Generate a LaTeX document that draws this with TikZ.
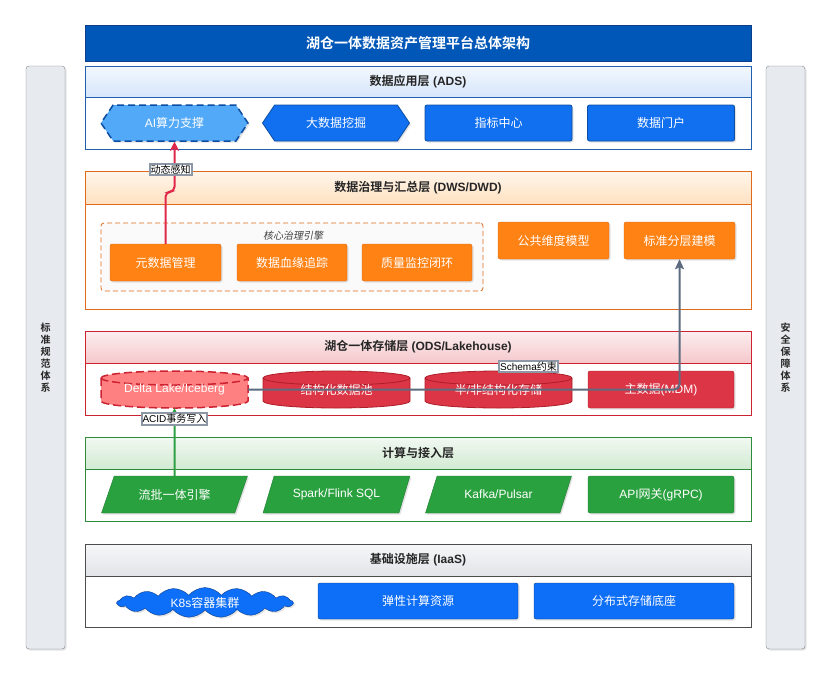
\documentclass[tikz,border=0pt]{standalone}
\usepackage{fontspec}
\setmainfont{Liberation Sans}
\newfontfamily\cjk{Noto Sans CJK SC}[BoldFont={Noto Sans CJK SC Bold},AutoFakeSlant=0.2]
\XeTeXinterchartokenstate=1
\newXeTeXintercharclass\cjkclass
\count255="3000
\loop\XeTeXcharclass\count255=\cjkclass\advance\count255 by 1 \ifnum\count255<"A000 \repeat
\count255="FF00
\loop\XeTeXcharclass\count255=\cjkclass\advance\count255 by 1 \ifnum\count255<"FFF0 \repeat
\XeTeXinterchartoks 0 \cjkclass={\begingroup\cjk}
\XeTeXinterchartoks 4095 \cjkclass={\begingroup\cjk}
\XeTeXinterchartoks \cjkclass 0={\endgroup}
\XeTeXinterchartoks \cjkclass 4095={\endgroup}
\usepackage{tikz}
\usetikzlibrary{arrows.meta,positioning,shapes.geometric,shapes.symbols,shadows}
\definecolor{titleblue}{HTML}{0057B8}
\definecolor{titleedge}{HTML}{0B3F8C}
\definecolor{appedge}{HTML}{1F5FAD}
\definecolor{apphead}{HTML}{D6E6FB}
\definecolor{appfill}{HTML}{1170F0}
\definecolor{aifill}{HTML}{52A9F7}
\definecolor{nodeedge}{HTML}{0C4DA2}
\definecolor{govedge}{HTML}{E06A1B}
\definecolor{govhead}{HTML}{FFE1C0}
\definecolor{govfill}{HTML}{FF8214}
\definecolor{govnode}{HTML}{D9691A}
\definecolor{lakeedge}{HTML}{CC2231}
\definecolor{lakehead}{HTML}{F5C8CB}
\definecolor{lakefill}{HTML}{DC3545}
\definecolor{deltafill}{HTML}{FF8080}
\definecolor{calcedge}{HTML}{2E8B3E}
\definecolor{calchead}{HTML}{D2EAD2}
\definecolor{calcfill}{HTML}{2AA13F}
\definecolor{calcnode}{HTML}{1E7A30}
\definecolor{infraedge}{HTML}{4D4D4D}
\definecolor{infrahead}{HTML}{E1E4E8}
\definecolor{infrafill}{HTML}{0D6EF7}
\definecolor{sidefill}{HTML}{E7EAEE}
\definecolor{sideedge}{HTML}{7F858C}
\definecolor{slate}{HTML}{5C6B7F}
\definecolor{sensered}{HTML}{E0294A}
\definecolor{acidgreen}{HTML}{2EA043}
\newcommand{\lakedrum}[5]{%
  \draw[#1] (#2,#4+7) -- (#2,#5-7)
    arc[start angle=180,end angle=0,x radius={(#3-#2)/2},y radius=7] -- (#3,#4+7)
    arc[start angle=0,end angle=-180,x radius={(#3-#2)/2},y radius=7] -- cycle;
  \draw[#1,fill=none] (#2,#4+7) arc[start angle=180,end angle=0,x radius={(#3-#2)/2},y radius=7];
}

\begin{document}
\begin{tikzpicture}[x=1pt,y=-1pt,
    every node/.style={font=\fontsize{12}{14}\selectfont,inner sep=2pt},
    shadowed/.style={drop shadow={shadow xshift=1.5pt,shadow yshift=-1.5pt,opacity=0.22}},
    layerframe/.style={draw=#1,fill=white,line width=0.8pt,minimum width=666pt},
    layerhead/.style={draw=#1,line width=0.8pt,minimum width=666pt,
                      font=\bfseries\fontsize{12}{14}\selectfont,text=black!85},
    appblock/.style={shadowed,draw=nodeedge,fill=appfill,text=white,rounded corners=2pt,
                     minimum width=147pt,minimum height=36pt,line width=0.8pt},
    apphex/.style={shadowed,draw=nodeedge,fill=appfill,text=white,line width=0.8pt,
                   signal,signal to=west and east,signal pointer angle=112,
                   minimum width=147pt,minimum height=36pt},
    govblock/.style={shadowed,draw=govnode,fill=govfill,text=white,rounded corners=2pt,
                     minimum width=111pt,minimum height=37pt},
    lakeblock/.style={shadowed,draw=lakeedge!85!black,fill=lakefill,text=white,rounded corners=2pt,
                      minimum width=146pt,minimum height=37pt},
    drum/.style={draw=lakeedge!85!black,fill=lakefill,line width=0.8pt},
    calcslant/.style={shadowed,draw=calcnode,fill=calcfill,text=white,
                      trapezium,trapezium left angle=62,trapezium right angle=118,
                      trapezium stretches=true,minimum width=147pt,minimum height=37pt},
    calcblock/.style={shadowed,draw=calcnode,fill=calcfill,text=white,rounded corners=2pt,
                      minimum width=146pt,minimum height=37pt},
    infrablock/.style={shadowed,draw=titleedge,fill=infrafill,text=white,rounded corners=2pt,
                       minimum width=200pt,minimum height=36pt},
    sidebar/.style={shadowed,draw=sideedge,fill=sidefill,rounded corners=3pt,minimum width=39pt,
                    minimum height=583pt,align=center,font=\bfseries\fontsize{10}{12}\selectfont,
                    text=black!85},
    flowtag/.style={draw=slate!70,fill=white,sharp corners,inner sep=1pt,
                    font=\fontsize{10}{11}\selectfont,text=black},
    senseline/.style={draw=sensered,line width=2pt,rounded corners=5pt,
                      -{Stealth[length=9pt,width=9pt,inset=2pt]}},
    acidline/.style={draw=acidgreen,line width=2pt,-{Stealth[length=6pt,width=6pt]}},
    schemaline/.style={draw=slate,line width=2pt,rounded corners=5pt,
                       -{Stealth[length=10pt,width=9pt,inset=2pt]}},
  ]
  \fill[white] (0,0) rectangle (833,678);
  \useasboundingbox (0,0) rectangle (833,678);

  \node[draw=titleedge,fill=titleblue,text=white,font=\bfseries\fontsize{14}{16}\selectfont,
        minimum width=666pt,minimum height=36pt] (title) at (418,43) {湖仓一体数据资产管理平台总体架构};
  \node[sidebar] (stdbar) at (45.5,357.5) {标\\准\\规\\范\\体\\系};
  \node[sidebar] (secbar) at (785.5,357.5) {安\\全\\保\\障\\体\\系};

  \node[layerframe=appedge,minimum height=83pt] (adsframe) at (418,107.5) {};
  \node[layerhead=appedge,top color=apphead!30!white,bottom color=apphead,minimum height=31pt]
       (adshead) at (418,81.5) {数据应用层 (ADS)};
  \node[apphex,fill=aifill,dash pattern=on 7pt off 4pt,line width=1.5pt] (ai) at (174.5,123) {AI算力支撑};
  \node[apphex] (mining) at (336,123) {大数据挖掘};
  \node[appblock] (metric) at (498.5,123) {指标中心};
  \node[appblock] (portal) at (661,123) {数据门户};

  \node[layerframe=govedge,minimum height=138pt] (dwsframe) at (418,240) {};
  \node[layerhead=govedge,top color=govhead!30!white,bottom color=govhead,minimum height=33pt]
       (dwshead) at (418,187.5) {数据治理与汇总层 (DWS/DWD)};
  \node[draw=govedge,line width=0.8pt,dash pattern=on 5pt off 3pt,fill=black!2,rounded corners=3pt,
        minimum width=382pt,minimum height=68pt] (core) at (292,257) {};
  \node[font=\itshape\fontsize{10}{12}\selectfont,text=black!75] (corelabel) at (293,236) {核心治理引擎};
  \node[govblock] (meta) at (165.5,262.5) {元数据管理};
  \node[govblock,minimum width=110pt] (lineage) at (292,262.5) {数据血缘追踪};
  \node[govblock,minimum width=110pt] (quality) at (417,262.5) {质量监控闭环};
  \node[govblock] (dimmodel) at (553.5,240.5) {公共维度模型};
  \node[govblock] (layermodel) at (679.5,240.5) {标准分层建模};

  \node[layerframe=lakeedge,minimum height=84pt] (odsframe) at (418,373) {};
  \node[layerhead=lakeedge,top color=lakehead!30!white,bottom color=lakehead,minimum height=32pt]
       (odshead) at (418,347) {湖仓一体存储层 (ODS/Lakehouse)};
  \lakedrum{drum,fill=deltafill,draw=lakeedge,dash pattern=on 8pt off 4pt,line width=1.5pt}{101}{248}{371}{408}
  \lakedrum{drum}{263}{410}{371}{408}
  \lakedrum{drum}{425}{572}{371}{408}
  \node[text=white,minimum width=147pt,minimum height=37pt] (delta) at (174.5,389.5) {Delta Lake/Iceberg};
  \node[text=white,minimum width=147pt,minimum height=37pt] (structpool) at (336.5,389.5) {结构化数据池};
  \node[text=white,minimum width=147pt,minimum height=37pt] (semistore) at (498.5,389.5) {半/非结构化存储};
  \node[lakeblock] (mdm) at (661,389.5) {主数据(MDM)};

  \node[layerframe=calcedge,minimum height=84pt] (calcframe) at (418,479) {};
  \node[layerhead=calcedge,top color=calchead!30!white,bottom color=calchead,minimum height=32pt]
       (calchead) at (418,453) {计算与接入层};
  \node[calcslant] (stream) at (174.5,494.5) {流批一体引擎};
  \node[calcslant] (spark) at (336.5,494.5) {Spark/Flink SQL};
  \node[calcslant] (kafka) at (498.5,494.5) {Kafka/Pulsar};
  \node[calcblock] (gateway) at (661,494.5) {API网关(gRPC)};

  \node[layerframe=infraedge,minimum height=83pt] (iaasframe) at (418,585.5) {};
  \node[layerhead=infraedge,top color=infrahead!30!white,bottom color=infrahead,minimum height=32pt]
       (iaashead) at (418,560) {基础设施层 (IaaS)};
  \node[shadowed,cloud,cloud puffs=17,cloud puff arc=100,cloud ignores aspect,draw=titleedge,
        fill=infrafill,text=white,minimum width=176pt,minimum height=24pt] (k8s) at (205,602.5) {K8s容器集群};
  \node[infrablock] (elastic) at (418,601) {弹性计算资源};
  \node[infrablock] (storage) at (634,601) {分布式存储底座};

  \draw[senseline] (meta.north) -- ++(0,-52) -| (ai.south)
       node[flowtag,pos=0.72,xshift=-4pt] {动态感知};
  \draw[acidline] (stream.north) -- (delta.south)
       node[flowtag,pos=0.84] {ACID事务写入};
  \draw[schemaline] (delta.east) -| (layermodel.south)
       node[flowtag,pos=0.325,yshift=23pt] {Schema约束};
\end{tikzpicture}
\end{document}
